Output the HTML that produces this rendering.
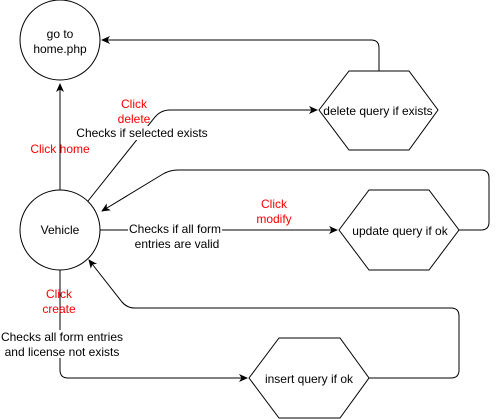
<!DOCTYPE html>
<html><head><meta charset="utf-8"><style>
html,body{margin:0;padding:0;background:#fff;}
svg{display:block;font-family:"Liberation Sans",Arial,sans-serif;font-size:12px;}
</style></head><body>
<svg width="498" height="419" viewBox="0 0 498 419" xmlns="http://www.w3.org/2000/svg">
<defs><marker id="a" markerWidth="10" markerHeight="10" refX="8" refY="4" orient="auto" markerUnits="userSpaceOnUse"><path d="M0,0 L9,4 L0,8 L2.5,4 Z" fill="#000"/></marker></defs>
<g fill="none" stroke="#000" stroke-width="1">
<circle cx="60" cy="40" r="40" fill="#fff"/>
<circle cx="60" cy="230" r="40" fill="#fff"/>
<polygon points="319,110 349,71 409,71 438,110 409,150 349,150" fill="#fff"/>
<polygon points="339,230 369,190 429,190 459,230 429,270 369,270" fill="#fff"/>
<polygon points="249,378 279,338 340,338 369,378 340,418 279,418" fill="#fff"/>
<path d="M60,190 L60,84" marker-end="url(#a)"/>
<path d="M379,71 L379,48 Q379,40 371,40 L102,40" marker-end="url(#a)"/>
<path d="M88,201 L155,117 Q161,110 170,110 L317,110" marker-end="url(#a)"/>
<path d="M459,230 L481,230 Q489,230 489,222 L489,178 Q489,170 481,170 L178,170 Q170,170 163,174 L102,211" marker-end="url(#a)"/>
<path d="M100,230 L337,230" marker-end="url(#a)"/>
<path d="M60,270 L60,370 Q60,378 68,378 L247,378" marker-end="url(#a)"/>
<path d="M369,378 L451,378 Q459,378 459,370 L459,316 Q459,308 451,308 L135,308 Q127,308 122,302 L89,260" marker-end="url(#a)"/>
</g>
<g text-anchor="middle" fill="#000">
<text x="60" y="38">go to</text>
<text x="60" y="53">home.php</text>
<text x="60" y="234">Vehicle</text>
<text x="378" y="115">delete query if exists</text>
<text x="400" y="235">update query if ok</text>
<text x="309" y="383">insert query if ok</text>
<rect x="75" y="126" width="135" height="14" fill="#fff"/>
<text x="142" y="137">Checks if selected exists</text>
<rect x="128" y="221" width="94" height="28" fill="#fff"/>
<text x="175" y="233">Checks if all form</text>
<text x="177" y="248">entries are valid</text>
<rect x="0" y="330" width="124" height="28" fill="#fff"/>
<text x="62" y="341">Checks all form entries</text>
<text x="62" y="356">and license not exists</text>
</g>
<g text-anchor="middle" fill="#ff0000">
<text x="60" y="153">Click home</text>
<text x="134" y="108">Click</text>
<text x="134" y="123">delete</text>
<text x="274" y="208">Click</text>
<text x="274" y="223">modify</text>
<text x="59" y="298">Click</text>
<text x="59" y="313">create</text>
</g>
</svg>
</body></html>
